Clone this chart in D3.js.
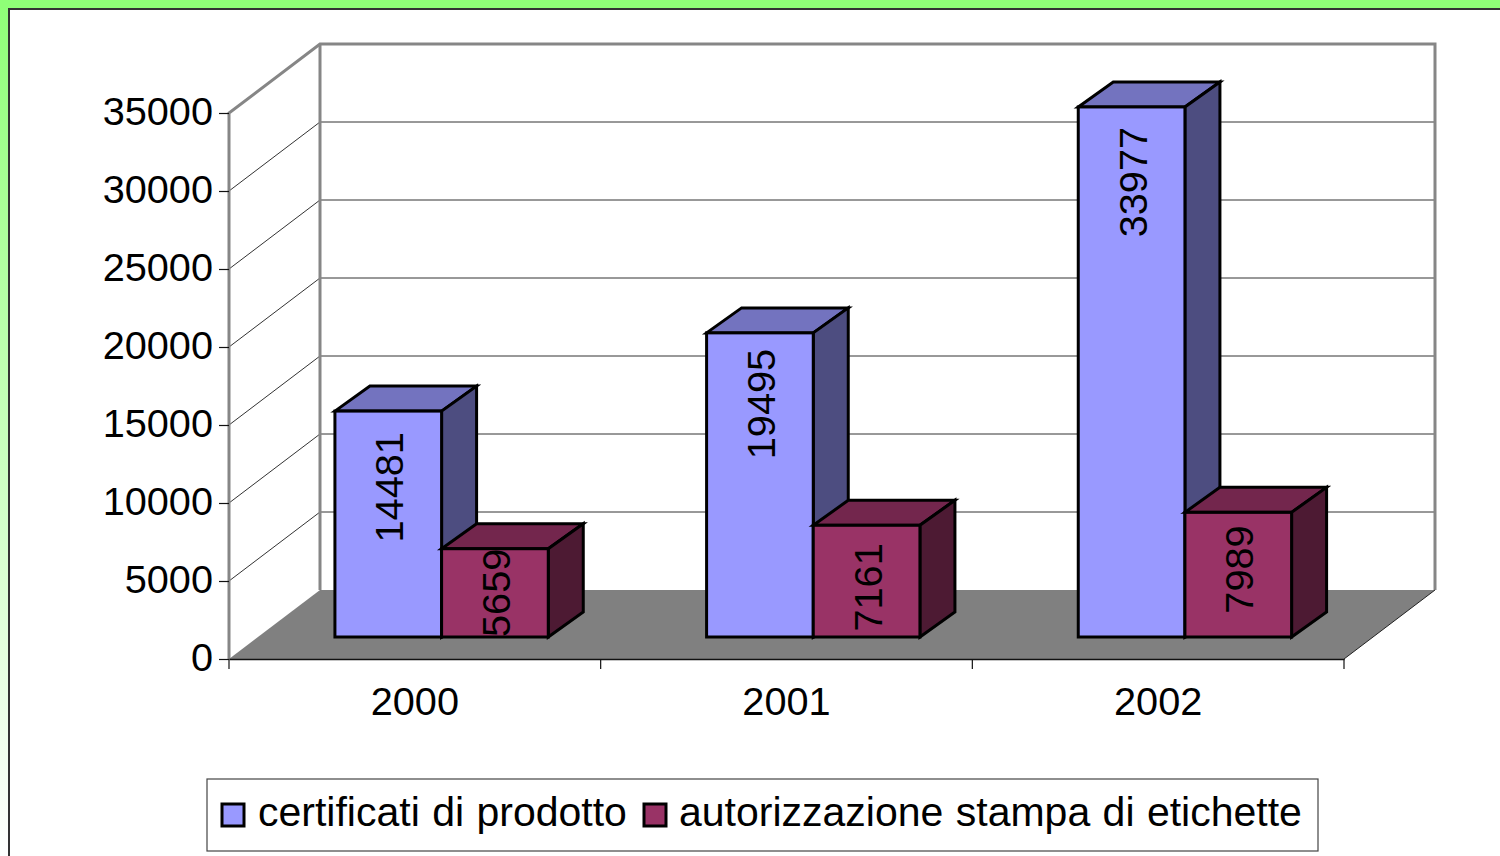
<!DOCTYPE html>
<html>
<head>
<meta charset="utf-8">
<script src="https://cdn.jsdelivr.net/npm/d3@7"></script>
<style>
    html, body { margin: 0; padding: 0; background: #fff; overflow: hidden; }
    svg { display: block; }
    text { font-family: "Liberation Sans", Arial, sans-serif; fill: #000; }
</style>
</head>
<body>
<div id="chart"></div>
<script>
// values
const years = ["2000", "2001", "2002"];
const certificati = [14481, 19495, 33977];
const autorizzazioni = [5659, 7161, 7989];
const yTicks = [0, 5000, 10000, 15000, 20000, 25000, 30000, 35000];
const seriesNames = ["certificati di prodotto", "autorizzazione stampa di etichette"];

const w = 1500, h = 856;
const fontSize = 39.7;

// fake 3d: how far the back wall and the bars are pushed
const wallDx = 91, wallDy = -69;
const barDx = 35, barDy = -25;
const barLift = -22;

const blue = { front: "#9999ff", top: "#7373bf", side: "#4d4d80" };
const maroon = { front: "#993366", top: "#73264d", side: "#4d1a33" };

// where each rotated label ends below the top of its bar
const labelInset = [[21, 0], [16, 18], [20, 13]];

const svg = d3.select("#chart").append("svg")
    .attr("width", w)
    .attr("height", h);

// background
const grad = svg.append("defs").append("linearGradient")
    .attr("id", "bg")
    .attr("x1", 0).attr("y1", 0).attr("x2", 0).attr("y2", 1);
grad.append("stop").attr("offset", "0%").attr("stop-color", "#8fff77");
grad.append("stop").attr("offset", "100%").attr("stop-color", "#ffffff");

svg.append("rect").attr("width", w).attr("height", h).attr("fill", "url(#bg)");
svg.append("rect").attr("y", 0).attr("width", w).attr("height", 9).attr("fill", "#8fff77");
svg.append("rect").attr("x", 9).attr("y", 9).attr("width", w).attr("height", h)
    .attr("fill", "#fff").attr("stroke", "#333").attr("stroke-width", 2);

const x = d3.scaleBand().domain(years).range([229, 1344]);
const y = d3.scaleLinear().domain([0, 35000]).range([659, 113]);
const left = x.range()[0], right = x.range()[1];

// gridlines on the two walls
const grid = svg.append("g").attr("fill", "none");
yTicks.slice(1, -1).forEach(function(v) {
    grid.append("path")
        .attr("d", d3.line()([[left, y(v)], [left + wallDx, y(v) + wallDy], [right + wallDx, y(v) + wallDy]]))
        .attr("stroke", "#333")
        .attr("stroke-width", 1);
});

// walls outline
svg.append("path")
    .attr("d", d3.line()([
        [left, y(0)], [left, y(35000)],
        [left + wallDx, y(35000) + wallDy],
        [right + wallDx, y(35000) + wallDy],
        [right + wallDx, y(0) + wallDy]
    ]))
    .attr("fill", "none")
    .attr("stroke", "#868686")
    .attr("stroke-width", 3);
svg.append("line")
    .attr("x1", left + wallDx).attr("x2", left + wallDx)
    .attr("y1", y(35000) + wallDy).attr("y2", y(0) + wallDy)
    .attr("stroke", "#868686")
    .attr("stroke-width", 3);

// floor
svg.append("polygon")
    .attr("points", [
        [left, y(0)], [left + wallDx, y(0) + wallDy],
        [right + wallDx, y(0) + wallDy], [right, y(0)]
    ].join(" "))
    .attr("fill", "#808080");
svg.append("line")
    .attr("x1", right).attr("x2", right + wallDx)
    .attr("y1", y(0)).attr("y2", y(0) + wallDy)
    .attr("stroke", "#222");

// axes
const yAxis = d3.axisLeft(y).tickValues(yTicks).tickSize(10).tickPadding(6).tickFormat(d3.format("d"));
const yG = svg.append("g").attr("transform", "translate(" + left + ",0)").call(yAxis);
yG.select(".domain").remove();
yG.selectAll("line").attr("stroke", "#111").attr("stroke-width", 1.2);
yG.selectAll("text").attr("y", -1).style("font-size", fontSize + "px").style("font-family", "Liberation Sans");

const xAxis = d3.axisBottom(x).tickSize(0).tickPadding(28);
const xG = svg.append("g").attr("transform", "translate(0," + y(0) + ")").call(xAxis);
xG.select(".domain").attr("stroke", "#111").attr("stroke-width", 1.4);
xG.selectAll("text").style("font-size", fontSize + "px").style("font-family", "Liberation Sans");

d3.range(years.length + 1).forEach(function(i) {
    svg.append("line")
        .attr("x1", left + i * x.step()).attr("x2", left + i * x.step())
        .attr("y1", y(0)).attr("y2", y(0) + 10)
        .attr("stroke", "#111")
        .attr("stroke-width", 1.2);
});

// bars
const barWidth = x.step() * 0.287;
const barStart = x.step() * 0.285;
const base = y(0) + barLift;

function drawBar(x0, value, colors) {
    let top = y(value) + barLift;
    let x1 = x0 + barWidth;
    let g = svg.append("g")
        .attr("stroke", "#000")
        .attr("stroke-width", 3)
        .attr("stroke-linejoin", "miter");
    g.append("polygon")
        .attr("points", [[x0, top], [x0 + barDx, top + barDy], [x1 + barDx, top + barDy], [x1, top]].join(" "))
        .attr("fill", colors.top);
    g.append("polygon")
        .attr("points", [[x1, top], [x1 + barDx, top + barDy], [x1 + barDx, base + barDy], [x1, base]].join(" "))
        .attr("fill", colors.side);
    g.append("rect")
        .attr("x", x0)
        .attr("y", top)
        .attr("width", barWidth)
        .attr("height", base - top)
        .attr("fill", colors.front);
}

function drawLabel(x0, value, inset) {
    let top = y(value) + barLift + inset;
    svg.append("text")
        .attr("transform", "translate(" + (x0 + barWidth / 2 + 15) + "," + top + ") rotate(-90)")
        .attr("text-anchor", "end")
        .style("font-size", fontSize + "px")
        .text(value);
}

years.forEach(function(year, i) {
    let x0 = x(year) + barStart;
    drawBar(x0, certificati[i], blue);
    drawBar(x0 + barWidth, autorizzazioni[i], maroon);
    drawLabel(x0, certificati[i], labelInset[i][0]);
    drawLabel(x0 + barWidth, autorizzazioni[i], labelInset[i][1]);
});

// legend
const legend = svg.append("g");
legend.append("rect")
    .attr("x", 207).attr("y", 779)
    .attr("width", 1111).attr("height", 72)
    .attr("fill", "#fff")
    .attr("stroke", "#444")
    .attr("stroke-width", 1.2);

[[222, 258, blue], [644, 679, maroon]].forEach(function(item, i) {
    legend.append("rect")
        .attr("x", item[0]).attr("y", 804)
        .attr("width", 22).attr("height", 22)
        .attr("fill", item[2].front)
        .attr("stroke", "#000")
        .attr("stroke-width", 3);
    legend.append("text")
        .attr("x", item[1]).attr("y", 826)
        .style("font-size", "41px")
        .style("word-spacing", "1px")
        .text(seriesNames[i]);
});
</script>
</body>
</html>
